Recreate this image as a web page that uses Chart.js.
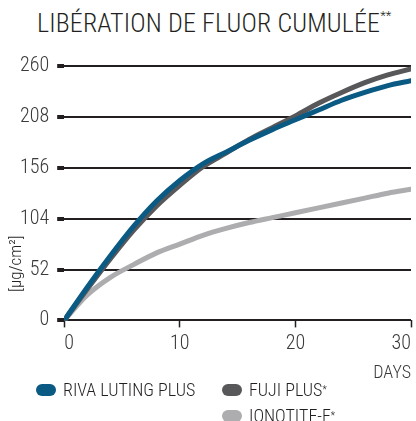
<!DOCTYPE html>
<html>
<head>
<meta charset="utf-8">
<script src="https://cdn.jsdelivr.net/npm/chart.js@4"></script>
<style>
  html, body { margin: 0; padding: 0; background: #fff; }
  body { width: 416px; height: 421px; position: relative; overflow: hidden;
         font-family: "Liberation Sans Narrow", "Roboto Condensed", Roboto, sans-serif; color: #231f20; }
  #titre { position: absolute; left: 37px; top: 8px; font-size: 26px; font-weight: 300; white-space: nowrap; letter-spacing: 0.15px; }
  #titre sup { font-size: 13px; vertical-align: 12px; }
  #zone { position: absolute; left: 0; top: 0; width: 416px; height: 421px; }
  #legende { position: absolute; left: 36px; top: 379px; width: 380px; font-size: 18px; font-weight: 300; }
  .item { position: absolute; white-space: nowrap; display: flex; align-items: center; }
  .item span.m { display: inline-block; width: 20px; height: 12px; border-radius: 6px; margin-right: 7px; }
  .item sup { font-size: 10px; vertical-align: 8px; }
</style>
</head>
<body>
<div id="titre">LIBÉRATION DE FLUOR CUMULÉE<sup>**</sup></div>
<div id="zone"><canvas id="grafica" width="416" height="421"></canvas></div>
<div id="legende"></div>
<script>
// jours
const jours = [0, 2, 4, 6, 8, 10, 12, 14, 16, 18, 20, 22, 24, 26, 28, 30];
// µg/cm²
const rivaLuting = [0, 34, 66, 96, 122, 143, 160, 172, 184, 195, 205, 215, 225, 233, 240, 245];
const fujiPlus = [0, 32, 63, 92, 117, 138, 157, 171, 185, 197, 209, 222, 233, 243, 251, 257];
const ionotite = [0, 26, 44, 57, 69, 78, 87, 94, 100, 105, 110, 115, 120, 125, 130, 134];

const nomsSeries = ["RIVA LUTING PLUS", "FUJI PLUS*", "IONOTITE-F*"];
const couleurs = ["#0b5a83", "#58585b", "#adadb0"];
const ticksY = [0, 52, 104, 156, 208, 260];
const ticksX = [0, 10, 20, 30];

const police = '"Liberation Sans Narrow", "Roboto Condensed", Roboto, sans-serif';
const valeurs = [rivaLuting, fujiPlus, ionotite];

const datasets = valeurs.map((serie, i) => ({
    label: nomsSeries[i],
    data: serie.map((v, j) => ({ x: jours[j], y: v })),
    borderColor: couleurs[i],
    backgroundColor: couleurs[i],
    borderWidth: 5,
    borderCapStyle: "round",
    pointRadius: 0,
    cubicInterpolationMode: "monotone",
    fill: false
}));

// étiquette de l'axe Y, placée plus bas que le centre
const etiquetteY = {
    id: "etiquetteY",
    afterDraw(chart) {
        const ctx = chart.ctx;
        const y = chart.scales.y.getPixelForValue(58);
        ctx.save();
        ctx.translate(17, y);
        ctx.rotate(-Math.PI / 2);
        ctx.font = "300 17px " + police;
        ctx.fillStyle = "#231f20";
        ctx.textAlign = "center";
        ctx.textBaseline = "middle";
        ctx.fillText("[µg/cm²]", 0, 0);
        ctx.restore();
    }
};

const ctx = document.getElementById("grafica").getContext("2d");
new Chart(ctx, {
    type: "line",
    data: { datasets: datasets },
    options: {
        responsive: false,
        animation: false,
        events: [],
        layout: { padding: { top: 66, left: 12, right: 4, bottom: 33 } },
        plugins: { legend: { display: false }, tooltip: { enabled: false } },
        scales: {
            x: {
                type: "linear",
                min: 0,
                max: 30,
                afterBuildTicks: (s) => { s.ticks = ticksX.map(v => ({ value: v })); },
                border: { display: false },
                grid: { drawOnChartArea: false, drawTicks: true, tickLength: 7, tickWidth: 1.5, tickColor: "#231f20" },
                ticks: { color: "#3a3a3a", align: "inner", font: { family: police, size: 20, weight: "300" }, padding: 5, maxRotation: 0 },
                title: { display: true, text: "DAYS", align: "end", color: "#3a3a3a", font: { family: police, size: 18, weight: "300" }, padding: { top: 1 } }
            },
            y: {
                min: 0,
                max: 260,
                afterBuildTicks: (s) => { s.ticks = ticksY.map(v => ({ value: v })); },
                border: { display: false },
                grid: { color: "#231f20", lineWidth: 2, tickLength: 7, tickWidth: 4, tickColor: "#231f20" },
                ticks: { color: "#3a3a3a", font: { family: police, size: 20, weight: "300" }, padding: 8 }
            }
        }
    },
    plugins: [etiquetteY]
});

// légende en HTML, deux colonnes
const legende = document.getElementById("legende");
const positions = [[0, 0], [186, 0], [186, 26]];
nomsSeries.forEach((nom, i) => {
    const d = document.createElement("div");
    d.className = "item";
    d.style.left = positions[i][0] + "px";
    d.style.top = positions[i][1] + "px";
    const texte = nom.endsWith("*") ? nom.slice(0, -1) + "<sup>*</sup>" : nom;
    d.innerHTML = `<span class="m" style="background:${couleurs[i]}"></span>${texte}`;
    legende.appendChild(d);
});
</script>
</body>
</html>
